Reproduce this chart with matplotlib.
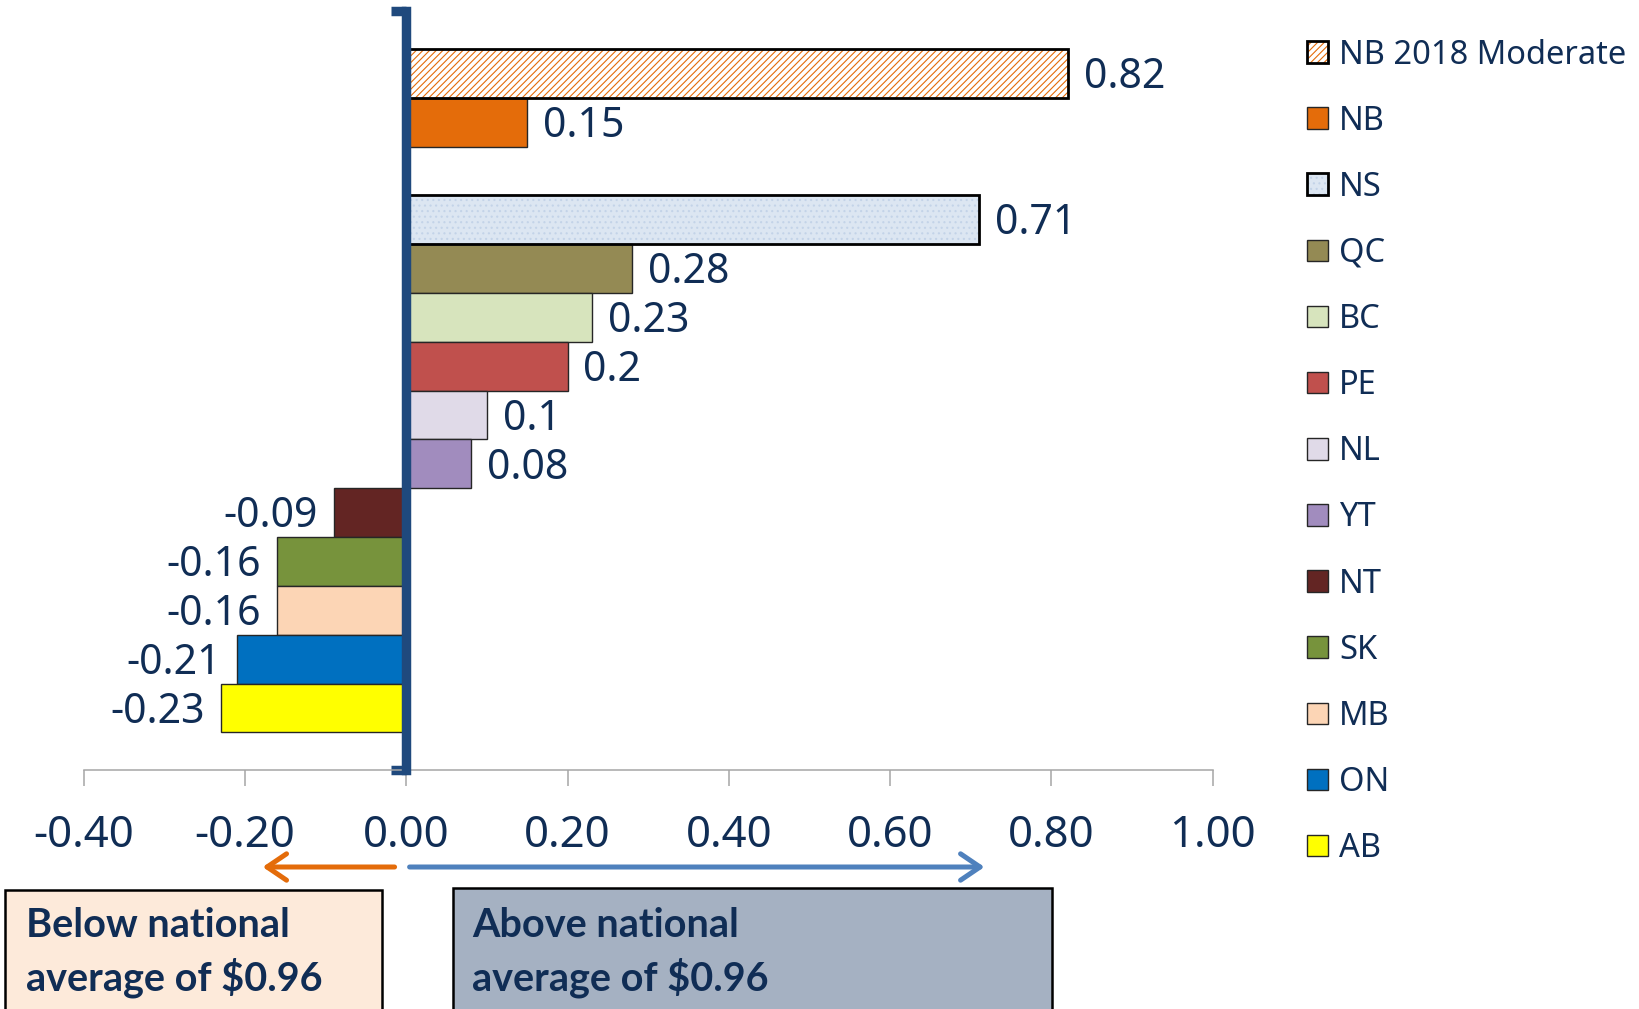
import numpy as np
import matplotlib
matplotlib.use("Agg")
import matplotlib.pyplot as plt
from matplotlib.patches import Rectangle
from matplotlib.legend_handler import HandlerTuple

# provinces, top to bottom, and their difference from the national average ($)
provinces = ['NB 2018 Moderate', 'NB', 'NS', 'QC', 'BC', 'PE', 'NL', 'YT',
             'NT', 'SK', 'MB', 'ON', 'AB']
diffs = [0.82, 0.15, 0.71, 0.28, 0.23, 0.2, 0.1, 0.08,
         -0.09, -0.16, -0.16, -0.21, -0.23]
bar_colors = ['#FFFFFF', '#E46C0A', '#DCE6F2', '#948A54', '#D7E4BD', '#C0504D',
              '#E0DAE8', '#A18CBE', '#632523', '#77933C', '#FCD5B5', '#0070C0',
              '#FFFF00']
xticks = [-0.4, -0.2, 0.0, 0.2, 0.4, 0.6, 0.8, 1.0]

navy = '#102D55'
axis_blue = '#1F497D'
grey = '#A6A6A6'
W, H = 1639, 1009

plt.rcParams['font.family'] = ['Noto Sans', 'DejaVu Sans']
plt.rcParams['hatch.linewidth'] = 0.8

fig = plt.figure(figsize=(W / 100, H / 100), dpi=100)
ax = fig.add_axes([83.6 / W, 1 - 770 / H, 1129.1 / W, 758.7 / H])

# one empty slot between NB and the rest
pos = np.arange(len(provinces)) + (np.arange(len(provinces)) >= 2)

bars = ax.barh(pos, diffs, height=1.0, color=bar_colors,
               edgecolor='#262626', linewidth=1.0, zorder=1)

# NB 2018 Moderate: orange hatch on white, black outline
bars[0].set_edgecolor('#E46C0A')
bars[0].set_hatch('/////')
bars[0].set_linewidth(0)
nb18_box = ax.barh(pos[0], diffs[0], height=1.0, fill=False,
                   edgecolor='black', linewidth=2.0, zorder=1.1)[0]

# NS: fine dotted fill, black outline
bars[2].set_edgecolor('#C3D3E8')
bars[2].set_hatch('...')
bars[2].set_linewidth(0)
ns_box = ax.barh(pos[2], diffs[2], height=1.0, fill=False,
                 edgecolor='black', linewidth=2.0, zorder=1.1)[0]

lab_size = 29.5
for y, v in zip(pos, diffs):
    off = 11.5 if v >= 0 else -11.5
    ax.annotate(f"{v:g}", xy=(v, y), xytext=(off, -0.357 * lab_size),
                textcoords='offset points',
                ha='left' if v >= 0 else 'right', va='baseline',
                fontsize=lab_size, color=navy)

ax.set_xlim(xticks[0], xticks[-1])
ax.set_xticks(xticks)
ax.set_xticklabels([f"{t:.2f}" for t in xticks])
ylo, yhi = -1.27, 13.5 + 0.77
ax.set_ylim(yhi, ylo)
ax.set_yticks([ylo, yhi])

for s in ['top', 'right']:
    ax.spines[s].set_visible(False)
ax.spines['bottom'].set_color(grey)
ax.spines['bottom'].set_linewidth(1.1)
ax.spines['left'].set_position(('data', 0))
ax.spines['left'].set_color(axis_blue)
ax.spines['left'].set_linewidth(6.8)
ax.spines['left'].set_zorder(3)

ax.tick_params(axis='x', direction='out', length=11.5, width=1.1, color=grey,
               labelsize=31.5, labelcolor=navy, pad=20)
ax.tick_params(axis='y', direction='out', length=11, width=6.8,
               color=axis_blue, labelleft=False)

# direction arrows under the axis
arrow_y = -(867 - 770) / 758.7
ax.annotate('', xy=(-0.178, arrow_y), xytext=(-0.0144, arrow_y),
            xycoords=('data', 'axes fraction'), annotation_clip=False,
            arrowprops=dict(arrowstyle='->,head_length=1.4,head_width=0.95',
                            color='#E46C0A', lw=3.6, shrinkA=0, shrinkB=0))
ax.annotate('', xy=(0.717, arrow_y), xytext=(0.0042, arrow_y),
            xycoords=('data', 'axes fraction'), annotation_clip=False,
            arrowprops=dict(arrowstyle='->,head_length=1.4,head_width=0.95',
                            color='#4F81BD', lw=3.6, shrinkA=0, shrinkB=0))

# text boxes at the bottom
fig.add_artist(Rectangle((5 / W, -0.05), 377 / W, 0.05 + 1 - 890 / H,
                         transform=fig.transFigure, facecolor='#FDEADA',
                         edgecolor='black', linewidth=1.8))
fig.add_artist(Rectangle((453 / W, -0.05), 599 / W, 0.05 + 1 - 888 / H,
                         transform=fig.transFigure, facecolor='#A5B1C2',
                         edgecolor='black', linewidth=1.8))
box_font = dict(family=['Lato', 'DejaVu Sans'], weight='bold', fontsize=28.5,
                color=navy, va='baseline')
fig.text(26 / W, 1 - 937 / H, 'Below national', **box_font)
fig.text(26 / W, 1 - 990 / H, 'average of $0.96', **box_font)
fig.text(472 / W, 1 - 937 / H, 'Above national', **box_font)
fig.text(472 / W, 1 - 990 / H, 'average of $0.96', **box_font)

handles = [(bars[0], nb18_box), bars[1], (bars[2], ns_box)] + list(bars[3:])
fig.legend(handles, provinces, loc='upper left',
           bbox_to_anchor=(1307 / W, 1 - 38.5 / H), frameon=False,
           borderpad=0, borderaxespad=0, fontsize=23.5, labelcolor=navy,
           handlelength=0.64, handleheight=0.64, handletextpad=0.35,
           labelspacing=1.015, handler_map={tuple: HandlerTuple(ndivide=1)})

fig.savefig('out.png', dpi=100)
